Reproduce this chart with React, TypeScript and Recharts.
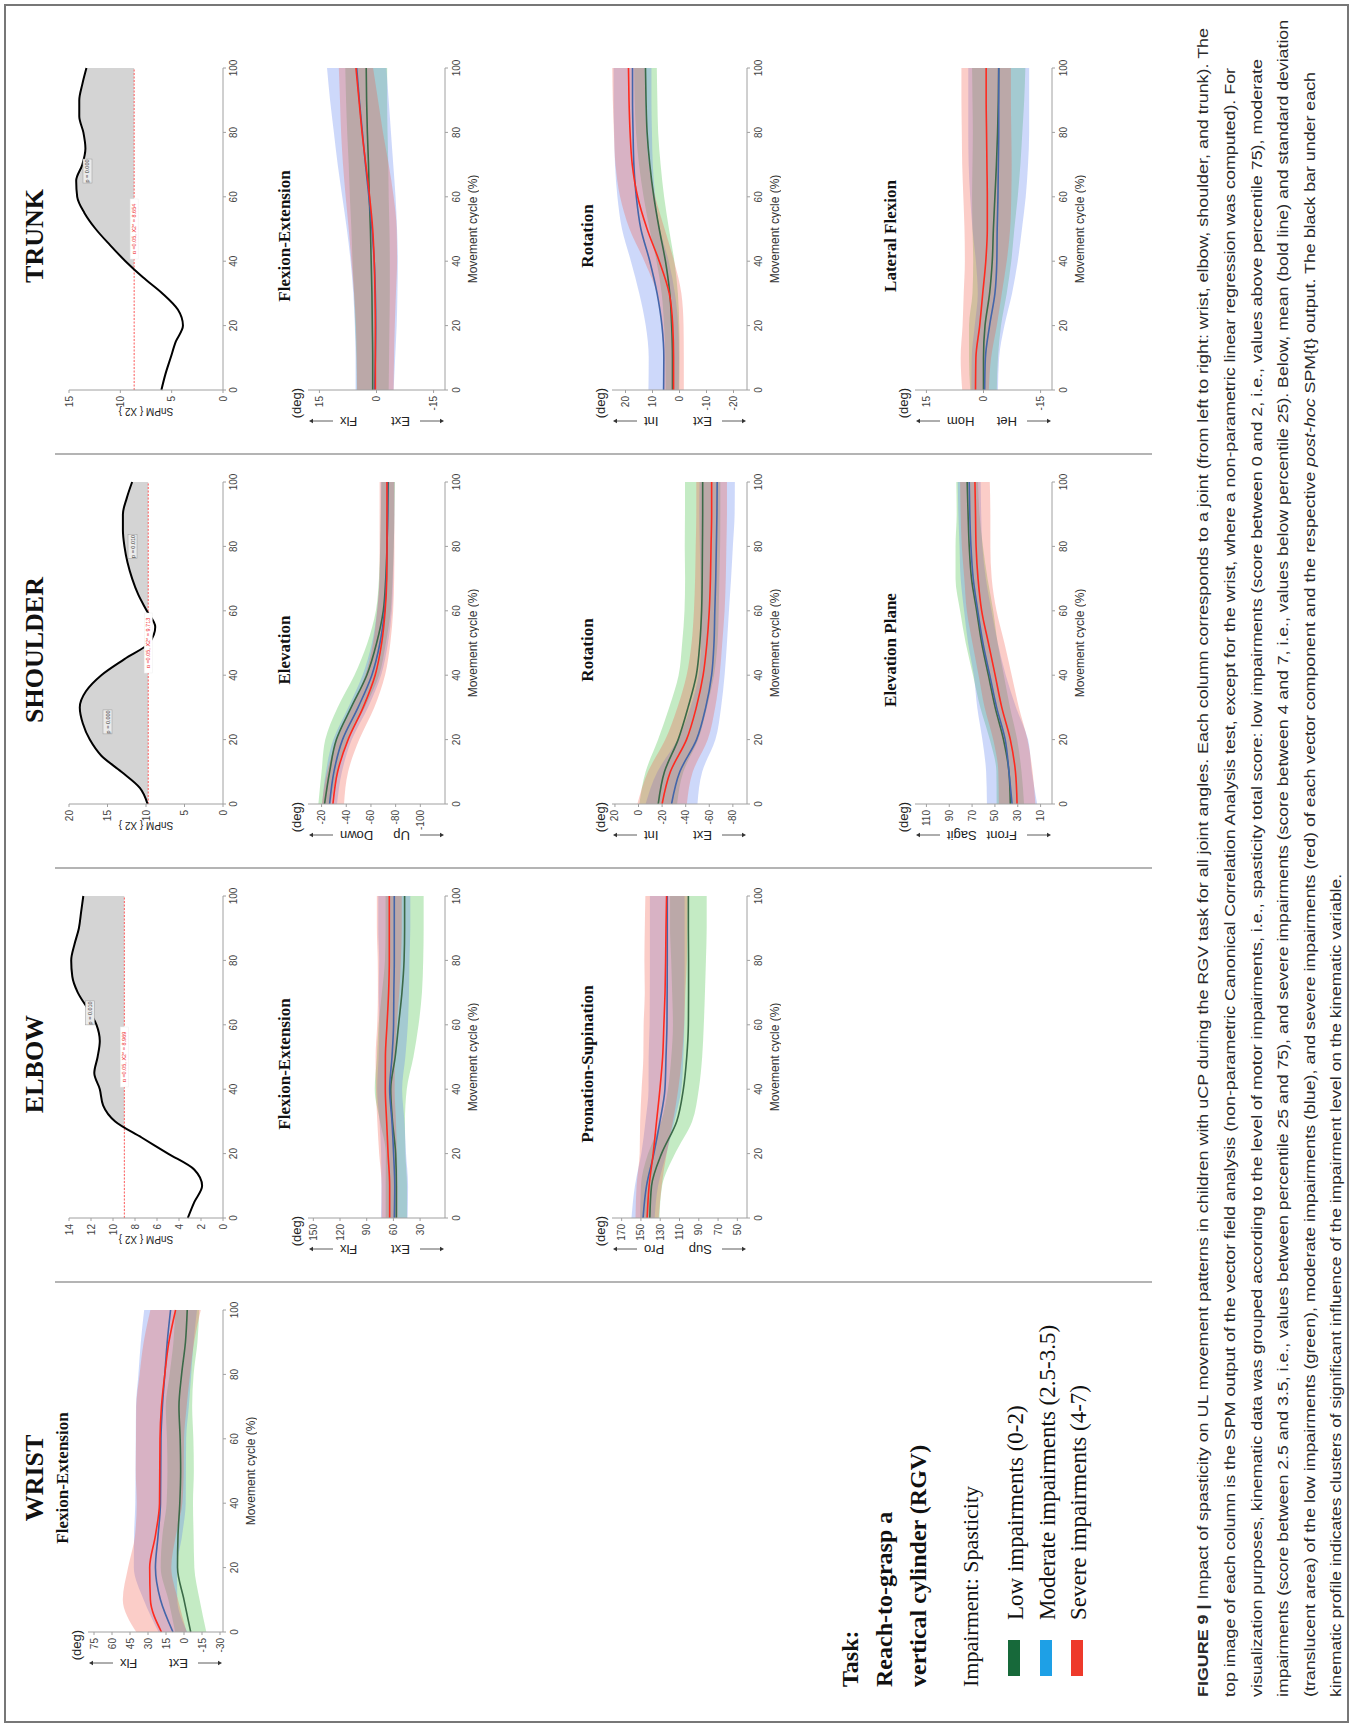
import React from "react";
import {
  ComposedChart,
  Area,
  Line,
  XAxis,
  YAxis,
  ReferenceArea,
  ReferenceDot,
} from "recharts";

// ---------- data ----------
const cycle = [0, 10, 20, 30, 40, 50, 60, 70, 80, 90, 100];
const cycleFine = [0, 5, 10, 15, 20, 25, 30, 35, 40, 45, 50, 55, 60, 65, 70, 75, 80, 85, 90, 95, 100];
const xTicks = [0, 20, 40, 60, 80, 100];

// SnPM {X2} curves (sampled every 5%)
const trunkSnpm = [6.0, 5.6, 5.1, 4.6, 3.9, 4.4, 5.9, 7.8, 9.5, 11.0, 12.4, 13.5, 14.2, 14.3, 13.7, 13.4, 13.6, 14.0, 14.0, 13.7, 13.3];
const shoulderSnpm = [9.8, 10.8, 13.2, 15.8, 17.3, 18.2, 18.6, 17.8, 15.8, 12.8, 9.6, 8.8, 9.9, 11.0, 11.8, 12.4, 12.8, 13.0, 13.0, 12.5, 11.8];
const elbowSnpm = [3.2, 2.6, 1.9, 2.6, 5.0, 7.4, 9.8, 10.9, 11.2, 11.7, 11.4, 11.2, 11.5, 12.3, 13.2, 13.7, 13.8, 13.5, 13.1, 12.9, 12.7];
const trunkThr = 8.654;
const shoulderThr = 9.713;
const elbowThr = 8.969;

// Wrist flexion-extension
const wristFlexLowMean = [-5.6, 0, 5.4, 5, 3.5, 2.8, 3.2, 4.2, 2, -1.2, -2.7];
const wristFlexLowSd = [13, 13, 14, 13, 11, 11, 11, 11, 10, 10, 10];
const wristFlexModMean = [9.2, 19.6, 23.8, 21.6, 19.6, 19.4, 19.2, 18, 16, 14, 11.2];
const wristFlexModSd = [12, 14, 18, 20, 21, 21, 21, 22, 22, 22, 22];
const wristFlexSevMean = [18.8, 28, 28.6, 23.8, 20.4, 20.2, 20, 18.8, 16, 12.6, 7];
const wristFlexSevSd = [21, 23, 18, 17, 19, 20, 20, 21, 21, 21, 21];

// Elbow flexion-extension
const elbowFlexLowMean = [56.7, 56.7, 57.5, 61, 63, 58, 54.2, 50.4, 48, 47.4, 47.4];
const elbowFlexLowSd = [12, 12, 11, 14, 18, 20.5, 22.5, 22.5, 21.5, 21.4, 21.4];
const elbowFlexModMean = [59, 58.5, 59.8, 61.6, 64.2, 61.6, 59.8, 59.5, 59, 59, 59];
const elbowFlexModSd = [15, 15, 14, 14, 14, 15, 16, 17, 17, 18, 18];
const elbowFlexSevMean = [64.2, 64.2, 66, 67.6, 69.1, 69, 67.2, 65.4, 64.6, 64.6, 64.6];
const elbowFlexSevSd = [9, 9, 10, 10.5, 10.5, 11, 11, 12, 13, 14, 14];

// Elbow pronation-supination
const elbowProLowMean = [140.8, 139, 128.6, 112.9, 106, 102.5, 100.8, 100.6, 100.6, 100.8, 100.8];
const elbowProLowSd = [10, 11, 14, 16, 16, 16, 16, 17, 18, 19, 19];
const elbowProModMean = [147.8, 144.2, 136.6, 130.3, 125.1, 124, 123, 122.8, 122.7, 122.7, 122.7];
const elbowProModSd = [12, 12, 13, 15, 17, 18, 18, 18, 18, 18, 18];
const elbowProSevMean = [143.6, 141.5, 137.3, 133.8, 130.3, 127.5, 126.2, 125, 124.4, 124, 123.4];
const elbowProSevSd = [12, 13, 14, 17, 19, 20, 21, 21, 22, 22, 22];

// Shoulder elevation
const shoulderElevLowMean = [-22.4, -26.5, -32, -44, -56.6, -64.6, -70, -72, -73, -73.5, -74];
const shoulderElevLowSd = [5, 6.5, 9, 11, 10, 7.5, 6, 5.5, 5.5, 5.5, 5.5];
const shoulderElevModMean = [-26.5, -30, -37, -49.6, -60.7, -67.3, -71, -72.5, -73, -73.5, -73.5];
const shoulderElevModSd = [6, 6.5, 7.5, 8, 7.5, 6.5, 6, 5.5, 5.5, 5.5, 5.5];
const shoulderElevSevMean = [-29.2, -33, -41.5, -53.7, -63.4, -68.7, -71.5, -72.8, -73, -73, -73];
const shoulderElevSevSd = [9, 8.5, 9, 9, 8, 7, 6.5, 6, 6, 6, 6];

// Shoulder rotation
const shoulderRotLowMean = [-16.7, -22, -33.6, -42, -49, -52, -53.5, -54, -54.2, -54.4, -54.4];
const shoulderRotLowSd = [16, 16, 17, 16, 15, 15, 14.5, 14.5, 15, 15, 15];
const shoulderRotModMean = [-28, -35, -49.2, -57, -62, -64, -64.7, -65.5, -66, -66.5, -66.7];
const shoulderRotModSd = [22, 19, 16, 13, 11, 11, 12, 13, 14, 15, 15];
const shoulderRotSevMean = [-20, -27, -40.7, -49, -54.8, -58, -60, -61, -61.5, -62, -62];
const shoulderRotSevSd = [21, 19, 18, 16, 14, 13, 13, 13, 13, 13, 13];

// Shoulder elevation plane
const shoulderPlaneLowMean = [36.5, 37.7, 42.5, 49.8, 55.7, 61.6, 66, 70.5, 72.5, 73.5, 74.3];
const shoulderPlaneLowSd = [12, 11, 12, 13, 13.5, 14, 14.5, 14, 12, 10, 9.5];
const shoulderPlaneModMean = [35, 37.7, 41, 48.5, 54.5, 60.5, 65, 69, 71, 72, 72.5];
const shoulderPlaneModSd = [22, 20, 20, 17, 14, 13, 12, 11, 10, 10, 10];
const shoulderPlaneSevMean = [30.6, 32, 36.5, 44, 49.8, 55.7, 61.6, 64.8, 66.5, 67, 67.5];
const shoulderPlaneSevSd = [16, 15, 15, 15, 14.5, 14, 13, 12, 12.5, 13, 13];

// Trunk flexion-extension
const trunkFlexLowMean = [1.0, 1.0, 1.1, 1.2, 1.4, 1.6, 1.9, 2.1, 2.4, 2.6, 2.7];
const trunkFlexLowSd = [4.2, 4.3, 4.5, 4.7, 4.9, 5.0, 5.1, 5.2, 5.3, 5.4, 5.5];
const trunkFlexModMean = [0.5, 0.3, 0.2, 0.3, 0.6, 1.2, 2.0, 2.9, 3.7, 4.5, 5.2];
const trunkFlexModSd = [5.0, 5.2, 5.5, 5.8, 6.2, 6.6, 7.0, 7.3, 7.5, 7.7, 7.8];
const trunkFlexSevMean = [0.3, 0.3, 0.3, 0.4, 0.6, 1.0, 1.8, 2.8, 3.8, 4.6, 5.4];
const trunkFlexSevSd = [4.8, 4.9, 5.1, 5.5, 6.0, 6.3, 6.3, 6.0, 5.5, 5.0, 4.5];

// Trunk rotation
const trunkRotLowMean = [2.6, 2.6, 2.9, 3.6, 5.2, 7.5, 9.5, 11.0, 12.0, 12.4, 12.6];
const trunkRotLowSd = [2.5, 2.6, 2.8, 3.0, 3.3, 3.6, 3.8, 4.0, 4.1, 4.2, 4.2];
const trunkRotModMean = [5.9, 5.8, 6.5, 8.3, 11.0, 14.3, 16.0, 16.9, 17.2, 17.4, 17.4];
const trunkRotModSd = [5.6, 5.6, 6.0, 6.6, 7.0, 7.0, 7.0, 7.0, 7.0, 7.0, 7.0];
const trunkRotSevMean = [2.2, 2.2, 2.5, 3.8, 7.5, 12.0, 15.5, 17.5, 18.3, 18.7, 18.9];
const trunkRotSevSd = [3.8, 3.8, 4.0, 4.5, 5.5, 6.5, 6.5, 6.2, 6.0, 6.0, 6.0];

// Trunk lateral flexion
const trunkLatLowMean = [0, 0, -0.4, -1.6, -2.3, -2.6, -3.0, -3.4, -3.7, -3.9, -4.0];
const trunkLatLowSd = [3.5, 3.8, 4.2, 4.5, 5.0, 5.5, 6.0, 6.3, 6.5, 6.8, 7.0];
const trunkLatModMean = [-0.3, -0.5, -1.6, -3.0, -3.5, -3.6, -3.8, -3.9, -4.0, -4.0, -4.0];
const trunkLatModSd = [3.5, 3.6, 3.9, 4.5, 5.5, 6.5, 7.3, 7.8, 8.0, 8.0, 8.0];
const trunkLatSevMean = [2.1, 2.0, 1.0, 0.2, -0.6, -1.0, -1.0, -0.9, -0.8, -0.7, -0.7];
const trunkLatSevSd = [3.5, 4.0, 4.5, 5.0, 5.5, 6.0, 6.3, 6.5, 6.5, 6.5, 6.5];

// significant clusters (p=0.01), in % of movement cycle
const wristFlexClusters = [[0, 61.5], [76.5, 100]];
const elbowFlexClusters = [[73.3, 100]];
const elbowProClusters = [[22, 100]];
const shoulderElevClusters = [[14.3, 40.7]];
const shoulderPlaneClusters = [[61, 95]];
const trunkRotClusters = [[32.6, 100]];

// ---------- styles ----------
const SANS = "'Liberation Sans', Arial, Helvetica, sans-serif";
const SERIF = "'Liberation Serif', 'Times New Roman', serif";
const AX = "#a0a0a0";
const LOW_FILL = "#3cbd3c";
const MOD_FILL = "#5a7ef0";
const SEV_FILL = "#f25a48";
const LOW_LINE = "#3b6a48";
const MOD_LINE = "#4466aa";
const SEV_LINE = "#ff2a1f";
const tickStyle = { fontSize: 10, fill: "#444", fontFamily: SANS };

const PW = 322; // plot width for 0..100 %
const YW = 32;
const MT = 6;
const MR = 8;

const colX = { wrist: 95, elbow: 509, shoulder: 923, trunk: 1337 };

function bandRows(lm: number[], ls: number[], mm: number[], ms: number[], sm: number[], ss: number[]) {
  return cycle.map((x, i) => ({
    x,
    lowBand: [lm[i] - ls[i], lm[i] + ls[i]],
    lowMean: lm[i],
    modBand: [mm[i] - ms[i], mm[i] + ms[i]],
    modMean: mm[i],
    sevBand: [sm[i] - ss[i], sm[i] + ss[i]],
    sevMean: sm[i],
  }));
}

function KinChart({ x0, top, bottom, domain, yTicks, rows }: any) {
  const ph = bottom - top;
  const XH = 34;
  return (
    <div style={{ position: "absolute", left: x0 - YW, top: top - MT }}>
      <ComposedChart
        width={YW + PW + MR}
        height={MT + ph + XH}
        data={rows}
        margin={{ top: MT, right: MR, bottom: 0, left: 0 }}
      >
        <XAxis
          dataKey="x"
          type="number"
          domain={[0, 100]}
          ticks={xTicks}
          interval={0}
          height={XH}
          stroke={AX}
          tick={tickStyle}
          tickSize={3}
          tickMargin={5}
          label={{ value: "Movement cycle (%)", position: "insideBottom", offset: 2, fontSize: 12, fill: "#333", fontFamily: SANS }}
        />
        <YAxis
          type="number"
          domain={domain}
          ticks={yTicks}
          interval={0}
          allowDataOverflow
          width={YW}
          stroke={AX}
          tick={tickStyle}
          tickSize={3}
          tickMargin={3}
        />
        <Area type="monotone" dataKey="lowBand" stroke="none" fill={LOW_FILL} fillOpacity={0.3} isAnimationActive={false} activeDot={false} />
        <Area type="monotone" dataKey="modBand" stroke="none" fill={MOD_FILL} fillOpacity={0.3} isAnimationActive={false} activeDot={false} />
        <Area type="monotone" dataKey="sevBand" stroke="none" fill={SEV_FILL} fillOpacity={0.3} isAnimationActive={false} activeDot={false} />
        <Line type="monotone" dataKey="lowMean" stroke={LOW_LINE} strokeWidth={1.6} dot={false} activeDot={false} isAnimationActive={false} />
        <Line type="monotone" dataKey="modMean" stroke={MOD_LINE} strokeWidth={1.6} dot={false} activeDot={false} isAnimationActive={false} />
        <Line type="monotone" dataKey="sevMean" stroke={SEV_LINE} strokeWidth={1.6} dot={false} activeDot={false} isAnimationActive={false} />
      </ComposedChart>
    </div>
  );
}

const pLabel = (props: any) => {
  const vb = props.viewBox || {};
  return (
    <text x={vb.x + vb.width} y={vb.y + vb.height + 16} textAnchor="end" fontSize={12} fontFamily={SANS} fill="#111">
      p=0.01
    </text>
  );
};

function Clusters({ x0, top, clusters }: any) {
  return (
    <div style={{ position: "absolute", left: x0 - YW, top }}>
      <ComposedChart
        width={YW + PW + MR}
        height={23 + 22}
        data={[{ x: 0 }, { x: 100 }]}
        margin={{ top: 0, right: MR, bottom: 22, left: YW }}
      >
        <XAxis dataKey="x" type="number" domain={[0, 100]} hide height={0} />
        <YAxis type="number" domain={[0, 1]} hide width={0} />
        {clusters.map((c: number[], i: number) => (
          <ReferenceArea key={i} x1={c[0]} x2={c[1]} y1={0} y2={1} fill="#000" fillOpacity={1} stroke="#000" label={pLabel} />
        ))}
      </ComposedChart>
    </div>
  );
}

const pBox = (txt: string) => (props: any) => {
  const vb = props.viewBox || {};
  const cx = vb.x + (vb.width || 0) / 2;
  const cy = vb.y + (vb.height || 0) / 2;
  return (
    <g>
      <rect x={cx - 12} y={cy - 4.5} width={24} height={9} fill="#ebebeb" stroke="#9a9a9a" strokeWidth={0.5} />
      <text x={cx} y={cy + 2} textAnchor="middle" fontSize={5.5} fontFamily={SANS} fill="#333">{txt}</text>
    </g>
  );
};

const thrBox = (thr: number) => (props: any) => {
  const vb = props.viewBox || {};
  const cx = vb.x + (vb.width || 0) / 2;
  const cy = vb.y + (vb.height || 0) / 2;
  return (
    <g>
      <rect x={cx - 30} y={cy - 4} width={60} height={8} fill="#fff" stroke="#eee" strokeWidth={0.5} />
      <text x={cx} y={cy + 2} textAnchor="middle" fontSize={5.5} fontFamily={SANS} fill="#f03030">
        {"\u03b1 =0.05,   X2* = " + thr.toFixed(3)}
      </text>
    </g>
  );
};

function SnpmChart({ x0, values, thr, yMax, yTicks, boxes }: any) {
  const top = 69;
  const bottom = 223;
  const XH = 22;
  const rows = cycleFine.map((x, i) => ({
    x,
    v: values[i],
    t: thr,
    over: [thr, values[i]],
    under: [Math.min(values[i], thr), thr],
  }));
  return (
    <div style={{ position: "absolute", left: x0 - YW, top: top - MT }}>
      <ComposedChart
        width={YW + PW + MR}
        height={MT + (bottom - top) + XH}
        data={rows}
        margin={{ top: MT, right: MR, bottom: 0, left: 0 }}
      >
        <XAxis dataKey="x" type="number" domain={[0, 100]} ticks={xTicks} interval={0} height={XH} stroke={AX} tick={tickStyle} tickSize={3} tickMargin={4} />
        <YAxis type="number" domain={[0, yMax]} ticks={yTicks} interval={0} allowDataOverflow width={YW} stroke={AX} tick={tickStyle} tickSize={3} tickMargin={3} />
        <Area type="monotone" dataKey="over" stroke="none" fill="#d4d4d4" fillOpacity={1} isAnimationActive={false} activeDot={false} />
        <Area type="monotone" dataKey="under" stroke="none" fill="#ffffff" fillOpacity={1} isAnimationActive={false} activeDot={false} />
        <Line type="linear" dataKey="t" stroke="#ff5a5a" strokeWidth={1} strokeDasharray="2 1.5" dot={false} activeDot={false} isAnimationActive={false} />
        <Line type="monotone" dataKey="v" stroke="#000" strokeWidth={2} dot={false} activeDot={false} isAnimationActive={false} />
        <ReferenceDot x={50} y={thr} r={1} fill="none" stroke="none" label={thrBox(thr)} />
        {boxes.map((b: any, i: number) => (
          <ReferenceDot key={i} x={b[0]} y={b[1]} r={1} fill="none" stroke="none" label={pBox(b[2])} />
        ))}
      </ComposedChart>
    </div>
  );
}

// y-axis side annotation: (deg), arrows and direction names
function AxisNote({ x0, top, bottom, up, down }: any) {
  const cx = x0 - 31;
  return (
    <g fontFamily={SANS} fill="#222">
      <text x={x0 + 2} y={top - 7} textAnchor="end" fontSize={13}>(deg)</text>
      <line x1={cx} y1={top + 25} x2={cx} y2={top + 4} stroke="#333" strokeWidth={0.8} />
      <path d={`M${cx - 2.2},${top + 5} L${cx},${top + 1} L${cx + 2.2},${top + 5} Z`} fill="#333" />
      <text transform={`translate(${cx},${top + 32}) rotate(-90)`} textAnchor="end" dominantBaseline="central" fontSize={13}>{up}</text>
      <text transform={`translate(${cx},${bottom - 35}) rotate(-90)`} textAnchor="start" dominantBaseline="central" fontSize={13}>{down}</text>
      <line x1={cx} y1={bottom - 25} x2={cx} y2={bottom - 4} stroke="#333" strokeWidth={0.8} />
      <path d={`M${cx - 2.2},${bottom - 5} L${cx},${bottom - 1} L${cx + 2.2},${bottom - 5} Z`} fill="#333" />
    </g>
  );
}

function SubTitle({ x0, y, text }: any) {
  return (
    <text x={x0 + PW / 2 - 7} y={y} textAnchor="middle" fontFamily={SERIF} fontWeight="bold" fontSize={17} fill="#111">{text}</text>
  );
}

function JointTitle({ x0, text }: any) {
  return (
    <text x={x0 + PW / 2 - 7} y={43} textAnchor="middle" fontFamily={SERIF} fontWeight="bold" fontSize={26} fill="#111">{text}</text>
  );
}

const captionLines = [
  "top image of each column is the SPM output of the vector field analysis (non-parametric Canonical Correlation Analysis test, except for the wrist, where a non-parametric linear regression was computed). For",
  "visualization purposes, kinematic data was grouped according to the level of motor impairments, i.e., spasticity total score: low impairments (score between 0 and 2, i.e., values above percentile 75), moderate",
  "impairments (score between 2.5 and 3.5, i.e., values between percentile 25 and 75), and severe impairments (score between 4 and 7, i.e., values below percentile 25). Below, mean (bold line) and standard deviation",
];
const captionEnds = [1659, 1668, 1707];

function Overlay() {
  const seps = [445, 859, 1273];
  return (
    <svg width={1727} height={1352} style={{ position: "absolute", left: 0, top: 0 }}>
      <rect x={5} y={5} width={1717} height={1343} fill="none" stroke="#777" strokeWidth={2} />
      {seps.map((x) => (
        <line key={x} x1={x} y1={55} x2={x} y2={1152} stroke="#b4b4b4" strokeWidth={2} />
      ))}
      <JointTitle x0={colX.wrist} text="WRIST" />
      <JointTitle x0={colX.elbow} text="ELBOW" />
      <JointTitle x0={colX.shoulder} text="SHOULDER" />
      <JointTitle x0={colX.trunk} text="TRUNK" />

      <SubTitle x0={colX.wrist} y={68} text="Flexion-Extension" />
      <SubTitle x0={colX.elbow} y={290} text="Flexion-Extension" />
      <SubTitle x0={colX.elbow} y={593} text="Pronation-Supination" />
      <SubTitle x0={colX.shoulder} y={290} text="Elevation" />
      <SubTitle x0={colX.shoulder} y={593} text="Rotation" />
      <SubTitle x0={colX.shoulder} y={896} text="Elevation Plane" />
      <SubTitle x0={colX.trunk} y={290} text="Flexion-Extension" />
      <SubTitle x0={colX.trunk} y={593} text="Rotation" />
      <SubTitle x0={colX.trunk} y={896} text="Lateral Flexion" />

      <AxisNote x0={colX.wrist} top={88} bottom={223} up="Flx" down="Ext" />
      <AxisNote x0={colX.elbow} top={308} bottom={445} up="Flx" down="Ext" />
      <AxisNote x0={colX.elbow} top={612} bottom={747} up="Pro" down="Sup" />
      <AxisNote x0={colX.shoulder} top={308} bottom={445} up="Down" down="Up" />
      <AxisNote x0={colX.shoulder} top={612} bottom={747} up="Int" down="Ext" />
      <AxisNote x0={colX.shoulder} top={915} bottom={1052} up="Sagit" down="Front" />
      <AxisNote x0={colX.trunk} top={308} bottom={445} up="Flx" down="Ext" />
      <AxisNote x0={colX.trunk} top={612} bottom={747} up="Int" down="Ext" />
      <AxisNote x0={colX.trunk} top={915} bottom={1052} up="Hom" down="Het" />

      {[colX.elbow, colX.shoulder, colX.trunk].map((x) => (
        <text key={x} transform={`translate(${x - 21},146) rotate(-90)`} textAnchor="middle" dominantBaseline="central" fontSize={10} fontFamily={SANS} fill="#222">
          SnPM {"{"} X2 {"}"}
        </text>
      ))}

      <g fontFamily={SERIF} fill="#111">
        <text x={40} y={858} fontSize={24} fontWeight="bold">Task:</text>
        <text x={40} y={892} fontSize={24} fontWeight="bold">Reach-to-grasp a</text>
        <text x={40} y={926} fontSize={24} fontWeight="bold">vertical cylinder (RGV)</text>
        <text x={40} y={978} fontSize={22}>Impairment: Spasticity</text>
        <rect x={51} y={1008} width={36} height={12} fill="#17693a" />
        <rect x={51} y={1040} width={36} height={12} fill="#1ea0e6" />
        <rect x={51} y={1071} width={36} height={12} fill="#ee3a2b" />
        <text x={107} y={1023} fontSize={23}>Low impairments (0-2)</text>
        <text x={107} y={1055} fontSize={23}>Moderate impairments (2.5-3.5)</text>
        <text x={107} y={1086} fontSize={23}>Severe impairments (4-7)</text>
      </g>

      <g fontFamily={SANS} fill="#2a2a2a" fontSize={15.5}>
        <text x={30} y={1208} textLength={1669} lengthAdjust="spacingAndGlyphs">
          <tspan fontWeight="bold">FIGURE 9 |</tspan> Impact of spasticity on UL movement patterns in children with uCP during the RGV task for all joint angles. Each column corresponds to a joint (from left to right: wrist, elbow, shoulder, and trunk). The
        </text>
        {captionLines.map((t, i) => (
          <text key={i} x={30} y={1235 + i * 26.5} textLength={captionEnds[i] - 30} lengthAdjust="spacingAndGlyphs">{t}</text>
        ))}
        <text x={30} y={1314.5} textLength={1625} lengthAdjust="spacingAndGlyphs">
          (translucent area) of the low impairments (green), moderate impairments (blue), and severe impairments (red) of each vector component and the respective <tspan fontStyle="italic">post-hoc</tspan> SPM{"{t}"} output. The black bar under each
        </text>
        <text x={30} y={1341} textLength={823} lengthAdjust="spacingAndGlyphs">
          kinematic profile indicates clusters of significant influence of the impairment level on the kinematic variable.
        </text>
      </g>
    </svg>
  );
}

export default function App() {
  const wristRows = bandRows(wristFlexLowMean, wristFlexLowSd, wristFlexModMean, wristFlexModSd, wristFlexSevMean, wristFlexSevSd);
  const elbowFlexRows = bandRows(elbowFlexLowMean, elbowFlexLowSd, elbowFlexModMean, elbowFlexModSd, elbowFlexSevMean, elbowFlexSevSd);
  const elbowProRows = bandRows(elbowProLowMean, elbowProLowSd, elbowProModMean, elbowProModSd, elbowProSevMean, elbowProSevSd);
  const shElevRows = bandRows(shoulderElevLowMean, shoulderElevLowSd, shoulderElevModMean, shoulderElevModSd, shoulderElevSevMean, shoulderElevSevSd);
  const shRotRows = bandRows(shoulderRotLowMean, shoulderRotLowSd, shoulderRotModMean, shoulderRotModSd, shoulderRotSevMean, shoulderRotSevSd);
  const shPlaneRows = bandRows(shoulderPlaneLowMean, shoulderPlaneLowSd, shoulderPlaneModMean, shoulderPlaneModSd, shoulderPlaneSevMean, shoulderPlaneSevSd);
  const trFlexRows = bandRows(trunkFlexLowMean, trunkFlexLowSd, trunkFlexModMean, trunkFlexModSd, trunkFlexSevMean, trunkFlexSevSd);
  const trRotRows = bandRows(trunkRotLowMean, trunkRotLowSd, trunkRotModMean, trunkRotModSd, trunkRotSevMean, trunkRotSevSd);
  const trLatRows = bandRows(trunkLatLowMean, trunkLatLowSd, trunkLatModMean, trunkLatModSd, trunkLatSevMean, trunkLatSevSd);

  return (
    <div style={{ position: "absolute", left: 0, top: 0, width: 1352, height: 1727, overflow: "hidden", background: "#fff" }}>
      <div
        style={{
          position: "absolute",
          left: 0,
          top: 0,
          width: 1727,
          height: 1352,
          transformOrigin: "0 0",
          transform: "translate(0px, 1727px) rotate(-90deg)",
        }}
      >
        <Overlay />

        {/* WRIST */}
        <KinChart x0={colX.wrist} top={88} bottom={223} domain={[-32.5, 80]} yTicks={[-30, -15, 0, 15, 30, 45, 60, 75]} rows={wristRows} />
        <Clusters x0={colX.wrist} top={262} clusters={wristFlexClusters} />

        {/* ELBOW */}
        <SnpmChart x0={colX.elbow} values={elbowSnpm} thr={elbowThr} yMax={14} yTicks={[0, 2, 4, 6, 8, 10, 12, 14]} boxes={[[63.7, 12.1, "p = 0.010"]]} />
        <KinChart x0={colX.elbow} top={308} bottom={445} domain={[2, 156]} yTicks={[30, 60, 90, 120, 150]} rows={elbowFlexRows} />
        <Clusters x0={colX.elbow} top={483} clusters={elbowFlexClusters} />
        <KinChart x0={colX.elbow} top={612} bottom={747} domain={[40, 180]} yTicks={[50, 70, 90, 110, 130, 150, 170]} rows={elbowProRows} />
        <Clusters x0={colX.elbow} top={785} clusters={elbowProClusters} />

        {/* SHOULDER */}
        <SnpmChart x0={colX.shoulder} values={shoulderSnpm} thr={shoulderThr} yMax={20} yTicks={[0, 5, 10, 15, 20]} boxes={[[25.5, 15, "p = 0.000"], [80, 11.75, "p = 0.010"]]} />
        <KinChart x0={colX.shoulder} top={308} bottom={445} domain={[-120, -9]} yTicks={[-100, -80, -60, -40, -20]} rows={shElevRows} />
        <Clusters x0={colX.shoulder} top={483} clusters={shoulderElevClusters} />
        <KinChart x0={colX.shoulder} top={612} bottom={747} domain={[-92, 22.5]} yTicks={[-80, -60, -40, -20, 0, 20]} rows={shRotRows} />
        <KinChart x0={colX.shoulder} top={915} bottom={1052} domain={[0, 120]} yTicks={[10, 30, 50, 70, 90, 110]} rows={shPlaneRows} />
        <Clusters x0={colX.shoulder} top={1090} clusters={shoulderPlaneClusters} />

        {/* TRUNK */}
        <SnpmChart x0={colX.trunk} values={trunkSnpm} thr={trunkThr} yMax={15} yTicks={[0, 5, 10, 15]} boxes={[[68, 13.2, "p = 0.000"]]} />
        <KinChart x0={colX.trunk} top={308} bottom={445} domain={[-18, 18]} yTicks={[-15, 0, 15]} rows={trFlexRows} />
        <KinChart x0={colX.trunk} top={612} bottom={747} domain={[-25, 25]} yTicks={[-20, -10, 0, 10, 20]} rows={trRotRows} />
        <Clusters x0={colX.trunk} top={785} clusters={trunkRotClusters} />
        <KinChart x0={colX.trunk} top={915} bottom={1052} domain={[-18, 18]} yTicks={[-15, 0, 15]} rows={trLatRows} />
      </div>
    </div>
  );
}
